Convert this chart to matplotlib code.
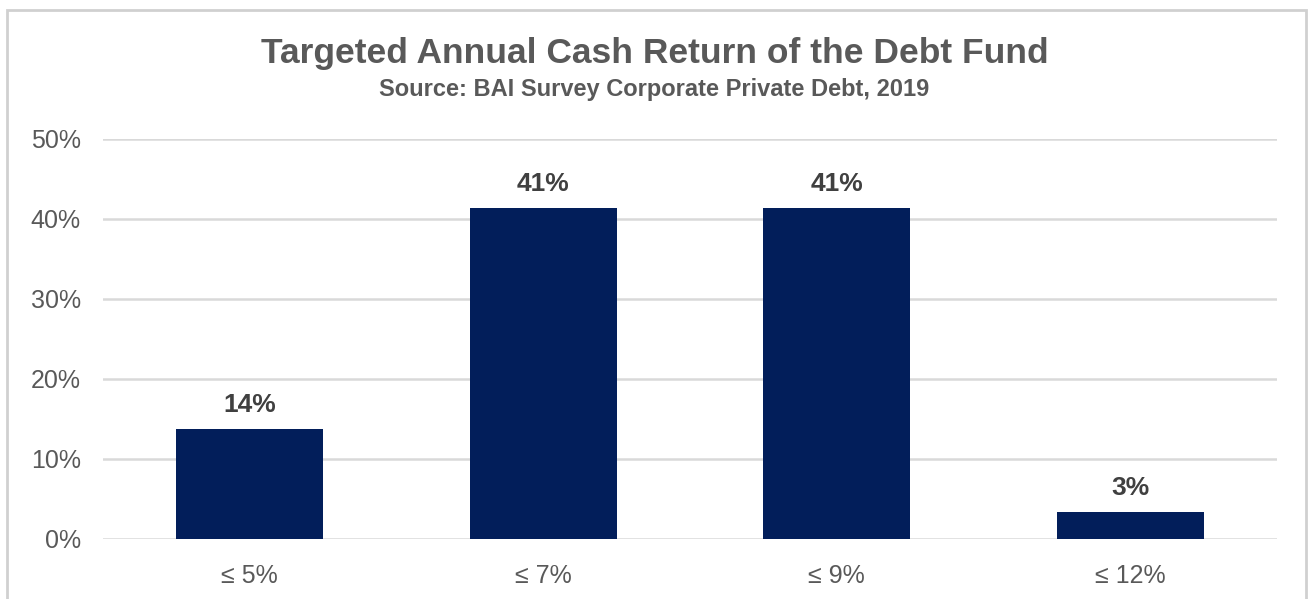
import matplotlib.pyplot as plt
from matplotlib.patches import Rectangle

plt.rcParams['font.family'] = ['Liberation Sans', 'DejaVu Sans']

# Data
categories = ["≤ 5%", "≤ 7%", "≤ 9%", "≤ 12%"]
values = [13.8, 41.4, 41.4, 3.4]
labels = ["14%", "41%", "41%", "3%"]
yticks = [0, 10, 20, 30, 40, 50]

fig = plt.figure(figsize=(13.09, 5.99), dpi=100)
ax = fig.add_axes([0.0787, 0.1002, 0.8969, 0.6678])

x = range(len(categories))
ax.bar(x, values, width=0.5, color="#021e5a", zorder=3)
for xi, v, lab in zip(x, values, labels):
    ax.text(xi, v + 3.0, lab, ha="center", va="center", fontsize=19,
            fontweight="bold", color="#404040")

ax.set_xlim(-0.5, 3.5)
ax.set_ylim(0, 50)
ax.set_yticks(yticks)
ax.set_yticklabels([f"{t}%" for t in yticks])
ax.set_xticks(list(x))
ax.set_xticklabels(categories)
ax.grid(axis="y", color="#d9d9d9", linewidth=1.8, zorder=0)
ax.tick_params(length=0, labelsize=18, colors="#595959")
ax.tick_params(axis="y", pad=16)
ax.tick_params(axis="x", pad=18)
for s in ax.spines.values():
    s.set_visible(False)

fig.text(0.5, 0.911, "Targeted Annual Cash Return of the Debt Fund", ha="center",
         va="center", fontsize=25.5, fontweight="bold", color="#595959")
fig.text(0.5, 0.851, "Source: BAI Survey Corporate Private Debt, 2019", ha="center",
         va="center", fontsize=17, fontweight="bold", color="#595959")

# outer border
fig.patches.append(Rectangle((7 / 1309, -0.05), 1299 / 1309, 1 - 10 / 599 + 0.05,
                             transform=fig.transFigure, fill=False,
                             edgecolor="#d0d0d0", linewidth=2))

plt.savefig("out.png")
